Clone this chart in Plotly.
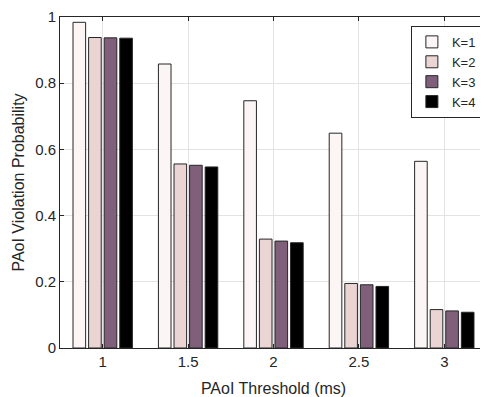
import plotly.graph_objects as go

thresholds = [1, 1.5, 2, 2.5, 3]
k1 = [0.984, 0.858, 0.747, 0.649, 0.564]
k2 = [0.938, 0.556, 0.329, 0.195, 0.116]
k3 = [0.937, 0.552, 0.323, 0.191, 0.112]
k4 = [0.936, 0.547, 0.318, 0.186, 0.108]
names = ["K=1", "K=2", "K=3", "K=4"]
colors = ["#FBF5F5", "#EAD4D4", "#7F5F7A", "#000000"]

fig = go.Figure()
for name, vals, col in zip(names, [k1, k2, k3, k4], colors):
    fig.add_trace(go.Bar(x=thresholds, y=vals, name=name,
                         marker=dict(color=col, line=dict(color="#262626", width=1))))

axis_common = dict(showline=True, linecolor="#262626", linewidth=1, mirror="ticks",
                   ticks="inside", ticklen=4, tickcolor="#262626",
                   showgrid=True, gridcolor="#E3E3E3", gridwidth=1, zeroline=False,
                   ticklabeloverflow="allow",
                   tickfont=dict(size=15, color="#262626"))

fig.update_layout(
    width=480, height=389,
    margin=dict(l=52, r=0, t=7, b=49),
    paper_bgcolor="white", plot_bgcolor="white",
    font=dict(family="Liberation Sans, Arial, sans-serif", color="#262626"),
    barmode="group", bargap=0.27, bargroupgap=0.19,
    showlegend=True,
    legend=dict(x=0.988, y=0.973, xanchor="right", yanchor="top",
                bgcolor="white", bordercolor="#262626", borderwidth=1,
                font=dict(size=13), tracegroupgap=0, itemwidth=30),
    xaxis=dict(range=[0.75, 3.25], tickvals=thresholds, ticktext=["1", "1.5", "2", "2.5", "3"],
               title=dict(text="PAoI Threshold (ms)", font=dict(size=16), standoff=14),
               **axis_common),
    yaxis=dict(range=[0, 1], tickvals=[0, 0.2, 0.4, 0.6, 0.8, 1],
               ticktext=["0", "0.2", "0.4", "0.6", "0.8", "1"],
               title=dict(text="PAoI Violation Probability", font=dict(size=16), standoff=6),
               **axis_common),
)

fig.write_html("out.html")
